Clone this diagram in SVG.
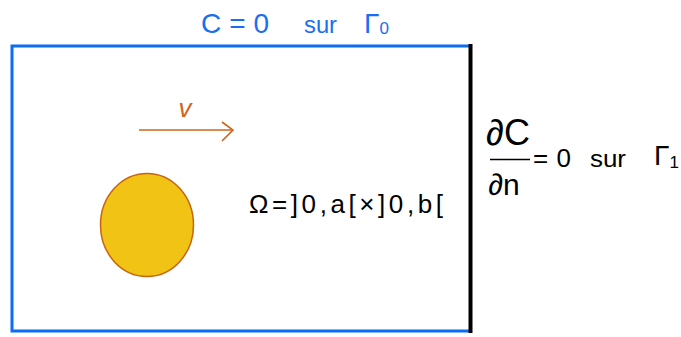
<svg xmlns="http://www.w3.org/2000/svg" width="681" height="337" viewBox="0 0 681 337">
<style>
.hand{font-family:"Liberation Sans",Arial,sans-serif;}
.blue{fill:#1a6ff0;}
.blk{fill:#000;}
.org{fill:#d0651a;}
</style>
<rect width="681" height="337" fill="#fff"/>
<g id="domain">
<polyline points="470,46 12,46 12,331 470,331" fill="none" stroke="#0b6cf5" stroke-width="3"/>
<line x1="470.5" y1="44" x2="470.5" y2="333" stroke="#000" stroke-width="4"/>
</g>
<g id="obstacle">
<ellipse cx="147" cy="225" rx="46.5" ry="51.5" fill="#f0c314" stroke="#c8650f" stroke-width="1.5"/>
</g>
<g id="velocity">
<line x1="139" y1="130" x2="232" y2="130" stroke="#d0651a" stroke-width="1.6"/>
<polyline points="222,122 233,130 222,141" fill="none" stroke="#d0651a" stroke-width="1.6"/>
<text class="hand org" x="185" y="117" font-size="26" font-style="italic" text-anchor="middle">v</text>
</g>
<g id="label-gamma0">
<text class="hand blue" x="201" y="33" font-size="28" textLength="68" lengthAdjust="spacing">C=0</text>
<text class="hand blue" x="304" y="33" font-size="24" textLength="33" lengthAdjust="spacingAndGlyphs">sur</text>
<text class="hand blue" x="364" y="33" font-size="28">Γ<tspan font-size="17" dy="1">0</tspan></text>
</g>
<g id="label-omega">
<text class="hand blk" x="249" y="213" font-size="26" textLength="194" lengthAdjust="spacing">Ω=]0,a[×]0,b[</text>
</g>
<g id="label-gamma1">
<text class="hand blk" x="508" y="145" font-size="36" text-anchor="middle">∂C</text>
<line x1="490" y1="159.5" x2="530" y2="159.5" stroke="#000" stroke-width="1.5"/>
<text class="hand blk" x="504" y="195" font-size="30" text-anchor="middle">∂n</text>
<text class="hand blk" x="533" y="167" font-size="26" textLength="38" lengthAdjust="spacing">=0</text>
<text class="hand blk" x="590" y="167" font-size="24" textLength="36" lengthAdjust="spacingAndGlyphs">sur</text>
<text class="hand blk" x="654" y="165" font-size="28">Γ<tspan font-size="17" dy="3">1</tspan></text>
</g>
</svg>
